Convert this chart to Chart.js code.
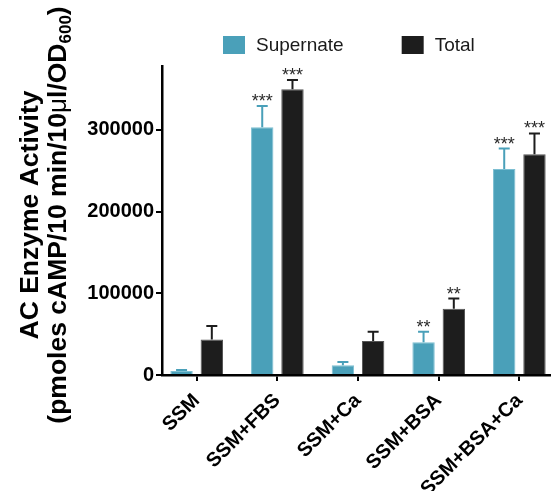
<!DOCTYPE html>
<html>
<head>
<meta charset="utf-8">
<script src="https://cdn.jsdelivr.net/npm/chart.js@4.4.1/dist/chart.umd.min.js"></script>
<style>
  body { margin: 0; background: #fff; }
  #wrap { width: 553px; height: 491px; }
</style>
</head>
<body>
<div id="wrap"><canvas id="chart" width="553" height="491"></canvas></div>
<script>
const categories = ['SSM', 'SSM+FBS', 'SSM+Ca', 'SSM+BSA', 'SSM+BSA+Ca'];
const supernate = [4900, 303000, 12000, 40000, 252000];
const supernateErr = [1200, 26000, 4000, 13000, 25000];
const total = [43500, 349500, 41500, 81000, 270000];
const totalErr = [16500, 11500, 11500, 12500, 25500];
const supernateStars = ['', '***', '', '**', '***'];
const totalStars = ['', '***', '', '**', '***'];
const yTicks = [0, 100000, 200000, 300000];

const FONT = "'Liberation Sans', Arial, Helvetica, sans-serif";
const BLUE = '#4aa0b9';
const BLACK = '#1d1d1d';

function points(values) {
    return values.map((v, i) => ({ x: i, y: v }));
}

// error bars (upward only) + significance stars
const errorBars = {
    id: 'errorBars',
    afterDatasetsDraw(chart) {
        const ctx = chart.ctx;
        const y = chart.scales.y;
        chart.data.datasets.forEach((ds, di) => {
            const meta = chart.getDatasetMeta(di);
            meta.data.forEach((bar, i) => {
                const top = y.getPixelForValue(ds.data[i].y + ds.errors[i]);
                ctx.save();
                ctx.strokeStyle = ds.backgroundColor;
                ctx.lineWidth = 2;
                ctx.beginPath();
                ctx.moveTo(bar.x, bar.y);
                ctx.lineTo(bar.x, top);
                ctx.moveTo(bar.x - 5.5, top);
                ctx.lineTo(bar.x + 5.5, top);
                ctx.stroke();
                if (ds.stars[i]) {
                    ctx.fillStyle = '#2a2a2a';
                    ctx.font = '18px ' + FONT;
                    ctx.textAlign = 'center';
                    ctx.textBaseline = 'alphabetic';
                    ctx.fillText(ds.stars[i], bar.x, top + 1);
                }
                ctx.restore();
            });
        });
    }
};

// legend drawn above the plot
const topLegend = {
    id: 'topLegend',
    afterDraw(chart) {
        const ctx = chart.ctx;
        ctx.save();
        ctx.font = '19px ' + FONT;
        ctx.textBaseline = 'middle';
        let x = 223;
        chart.data.datasets.forEach(ds => {
            ctx.fillStyle = ds.backgroundColor;
            ctx.fillRect(x, 36, 22, 18);
            ctx.fillStyle = '#1a1a1a';
            ctx.fillText(ds.label, x + 33, 46);
            x += 33 + ctx.measureText(ds.label).width + 58;
        });
        ctx.restore();
    }
};

// two-line y title with subscript
const yTitle = {
    id: 'yTitle',
    afterDraw(chart) {
        const ctx = chart.ctx;
        const cy = 215;
        ctx.save();
        ctx.fillStyle = '#000';
        ctx.rotate(-Math.PI / 2);
        ctx.textBaseline = 'alphabetic';
        ctx.font = 'bold 26.5px ' + FONT;
        ctx.textAlign = 'center';
        ctx.fillText('AC Enzyme Activity', -cy, 38);

        const parts = [
            { t: '(pmoles cAMP/10 min/10', f: 'bold 26.5px ' + FONT, dy: 0 },
            { t: '\u03bc', f: '26px ' + FONT, dy: 0 },
            { t: 'l/OD', f: 'bold 26.5px ' + FONT, dy: 0 },
            { t: '600', f: 'bold 17px ' + FONT, dy: 5 },
            { t: ')', f: 'bold 26.5px ' + FONT, dy: 0 }
        ];
        let w = 0;
        parts.forEach(p => { ctx.font = p.f; p.w = ctx.measureText(p.t).width; w += p.w; });
        ctx.textAlign = 'left';
        let x = -cy - w / 2;
        parts.forEach(p => {
            ctx.font = p.f;
            ctx.fillText(p.t, x, 66 + p.dy);
            x += p.w;
        });
        ctx.restore();
    }
};

new Chart(document.getElementById('chart'), {
    type: 'bar',
    data: {
        datasets: [
            {
                label: 'Supernate',
                data: points(supernate),
                errors: supernateErr,
                stars: supernateStars,
                backgroundColor: BLUE,
                borderColor: '#7dbfd2',
                borderWidth: 1
            },
            {
                label: 'Total',
                data: points(total),
                errors: totalErr,
                stars: totalStars,
                backgroundColor: BLACK,
                borderColor: '#555',
                borderWidth: 1
            }
        ]
    },
    options: {
        responsive: false,
        animation: false,
        categoryPercentage: 0.75,
        barPercentage: 0.74,
        layout: { padding: { left: 80, right: 3, top: 66, bottom: 0 } },
        plugins: { legend: { display: false }, tooltip: { enabled: false } },
        scales: {
            x: {
                type: 'linear',
                offset: false,
                min: -0.43,
                max: 4.38,
                afterBuildTicks: s => { s.ticks = categories.map((c, i) => ({ value: i })); },
                afterFit: s => { s.height = 116; },
                grid: { offset: false, drawOnChartArea: false, tickLength: 6, color: '#000', lineWidth: 2 },
                border: { color: '#000', width: 2.5 },
                ticks: {
                    autoSkip: false,
                    minRotation: 45,
                    maxRotation: 45,
                    padding: 8,
                    color: '#000',
                    font: { family: FONT, size: 20, weight: 'bold' },
                    callback: v => categories[v]
                }
            },
            y: {
                min: 0,
                max: 378000,
                afterBuildTicks: s => { s.ticks = yTicks.map(v => ({ value: v })); },
                afterFit: s => { s.width = 82; },
                grid: { drawOnChartArea: false, tickLength: 6, color: '#000', lineWidth: 2 },
                border: { color: '#000', width: 2.5 },
                ticks: {
                    padding: 2,
                    color: '#000',
                    font: { family: FONT, size: 20, weight: 'bold' },
                    callback: v => String(v)
                }
            }
        }
    },
    plugins: [errorBars, topLegend, yTitle]
});
</script>
</body>
</html>
